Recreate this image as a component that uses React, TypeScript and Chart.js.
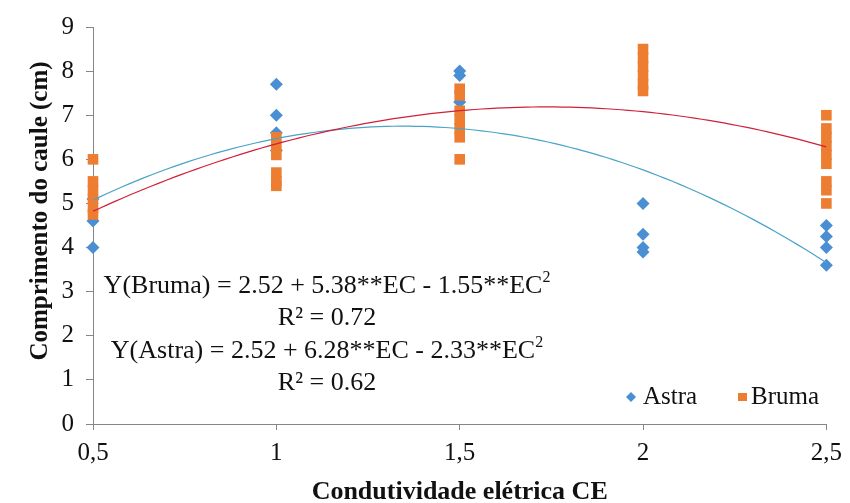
import React, { useEffect, useRef } from "react";
import { Chart, registerables } from "chart.js";

Chart.register(...registerables);

// Conductivity levels (x)
const levels = [0.5, 1, 1.5, 2, 2.5];
const xTickLabels = ["0,5", "1", "1,5", "2", "2,5"];

// Astra observations per level
const astraAt05 = [4.0, 4.6, 5.1];
const astraAt10 = [7.7, 7.0, 6.6, 6.2];
const astraAt15 = [8.0, 7.9, 7.3];
const astraAt20 = [5.0, 4.3, 4.0, 3.9];
const astraAt25 = [4.5, 4.25, 4.0, 3.6];

// Bruma observations per level
const brumaAt05 = [6.0, 5.5, 5.3, 5.1, 4.9, 4.75];
const brumaAt10 = [6.5, 6.3, 6.1, 5.7, 5.5, 5.4];
const brumaAt15 = [7.6, 7.45, 7.1, 6.9, 6.7, 6.5, 6.0];
const brumaAt20 = [8.5, 8.3, 8.1, 7.9, 7.7, 7.55];
const brumaAt25 = [7.0, 6.7, 6.5, 6.3, 6.1, 5.9, 5.5, 5.3, 5.0];

// Regression coefficients shown in the chart: a + b*EC + c*EC^2
const brumaCoef = [2.52, 5.38, -1.55];
const astraCoef = [2.52, 6.28, -2.33];

const astraGroups = [astraAt05, astraAt10, astraAt15, astraAt20, astraAt25];
const brumaGroups = [brumaAt05, brumaAt10, brumaAt15, brumaAt20, brumaAt25];

const toPoints = (groups: number[][]) =>
  groups.flatMap((g, i) => g.map((y) => ({ x: levels[i], y })));

const trend = (coef: number[]) => {
  const pts: { x: number; y: number }[] = [];
  for (let i = 0; i <= 100; i++) {
    const x = 0.5 + (2 * i) / 100;
    pts.push({ x, y: coef[0] + coef[1] * x + coef[2] * x * x });
  }
  return pts;
};

const ASTRA = "#4a8fd3";
const BRUMA = "#ed7d31";
const AXIS = "#868686";
const SERIF = "'Liberation Serif', 'Times New Roman', serif";

type Seg = { t: string; sup?: boolean };

function drawCentered(ctx: CanvasRenderingContext2D, segs: Seg[], cx: number, cy: number, size: number) {
  const base = `${size}px ${SERIF}`;
  const sup = `${Math.round(size * 0.62)}px ${SERIF}`;
  let w = 0;
  for (const s of segs) {
    ctx.font = s.sup ? sup : base;
    w += ctx.measureText(s.t).width;
  }
  let x = cx - w / 2;
  ctx.textBaseline = "middle";
  ctx.textAlign = "left";
  for (const s of segs) {
    ctx.font = s.sup ? sup : base;
    ctx.fillText(s.t, x, s.sup ? cy - size * 0.3 : cy);
    x += ctx.measureText(s.t).width;
  }
}

const overlay = {
  id: "overlay",
  afterDraw(chart: any) {
    const ctx = chart.ctx as CanvasRenderingContext2D;
    ctx.save();
    ctx.fillStyle = "#111";
    const cx = 327;
    drawCentered(ctx, [{ t: "Y(Bruma) = 2.52 + 5.38**EC - 1.55**EC" }, { t: "2", sup: true }], cx, 286, 26);
    drawCentered(ctx, [{ t: "R² = 0.72" }], cx, 318, 26);
    drawCentered(ctx, [{ t: "Y(Astra) = 2.52 + 6.28**EC - 2.33**EC" }, { t: "2", sup: true }], cx, 351, 26);
    drawCentered(ctx, [{ t: "R² = 0.62" }], cx, 383, 26);

    // y axis title
    ctx.save();
    ctx.translate(41, 211);
    ctx.rotate(-Math.PI / 2);
    ctx.font = `bold 25px ${SERIF}`;
    ctx.textAlign = "center";
    ctx.textBaseline = "middle";
    ctx.fillText("Comprimento do caule (cm)", 0, 0);
    ctx.restore();

    // legend
    const ly = 397;
    ctx.fillStyle = ASTRA;
    ctx.beginPath();
    ctx.moveTo(631, ly - 5);
    ctx.lineTo(636, ly);
    ctx.lineTo(631, ly + 5);
    ctx.lineTo(626, ly);
    ctx.closePath();
    ctx.fill();
    ctx.fillStyle = BRUMA;
    ctx.fillRect(738, ly - 4, 9, 8);
    ctx.fillStyle = "#111";
    ctx.font = `25px ${SERIF}`;
    ctx.textBaseline = "middle";
    ctx.textAlign = "left";
    ctx.fillText("Astra", 643, ly);
    ctx.fillText("Bruma", 751, ly);
    ctx.restore();
  },
};

export default function App() {
  const ref = useRef<HTMLCanvasElement>(null);
  useEffect(() => {
    document.body.style.margin = "0";
    const chart = new Chart(ref.current!, {
      type: "scatter",
      data: {
        datasets: [
          {
            type: "line",
            label: "Bruma trend",
            data: trend(brumaCoef),
            borderColor: "#d0203a",
            borderWidth: 1.2,
            pointRadius: 0,
            tension: 0,
          } as any,
          {
            type: "line",
            label: "Astra trend",
            data: trend(astraCoef),
            borderColor: "#4aa3c8",
            borderWidth: 1.2,
            pointRadius: 0,
            tension: 0,
          } as any,
          {
            label: "Bruma",
            data: toPoints(brumaGroups),
            pointStyle: "rect",
            pointRadius: 7.5,
            backgroundColor: BRUMA,
            borderColor: BRUMA,
            borderWidth: 0,
            clip: false,
          },
          {
            label: "Astra",
            data: toPoints(astraGroups),
            pointStyle: "rectRot",
            pointRadius: 6.5,
            backgroundColor: ASTRA,
            borderColor: ASTRA,
            borderWidth: 0,
            clip: false,
          },
        ],
      },
      options: {
        responsive: false,
        animation: false,
        layout: { padding: { left: 0, right: 17, top: 23, bottom: 0 } },
        plugins: { legend: { display: false }, tooltip: { enabled: false } },
        scales: {
          x: {
            type: "linear",
            min: 0.5,
            max: 2.5,
            afterBuildTicks: (s: any) => {
              s.ticks = levels.map((v) => ({ value: v }));
            },
            ticks: {
              callback: (_v: any, i: number) => xTickLabels[i],
              font: { family: SERIF, size: 25 },
              color: "#111",
              padding: 8,
              maxRotation: 0,
            },
            grid: { drawOnChartArea: false, drawTicks: true, tickLength: 6, color: AXIS },
            border: { color: AXIS, width: 1 },
            title: {
              display: true,
              text: "Condutividade elétrica CE",
              font: { family: SERIF, size: 26, weight: "bold", lineHeight: 0.8 },
              color: "#111",
              padding: 0,
            },
            afterFit: (s: any) => {
              s.height = 79;
            },
          },
          y: {
            min: 0,
            max: 9,
            ticks: {
              stepSize: 1,
              font: { family: SERIF, size: 25 },
              color: "#111",
              padding: 12,
            },
            grid: { drawOnChartArea: false, drawTicks: true, tickLength: 7, color: AXIS },
            border: { color: AXIS, width: 1 },
            title: { display: false },
            afterFit: (s: any) => {
              s.width = 93;
            },
          },
        },
      } as any,
      plugins: [overlay],
    });
    return () => chart.destroy();
  }, []);
  return (
    <div style={{ width: 850, height: 503 }}>
      <canvas ref={ref} width={850} height={503} />
    </div>
  );
}
